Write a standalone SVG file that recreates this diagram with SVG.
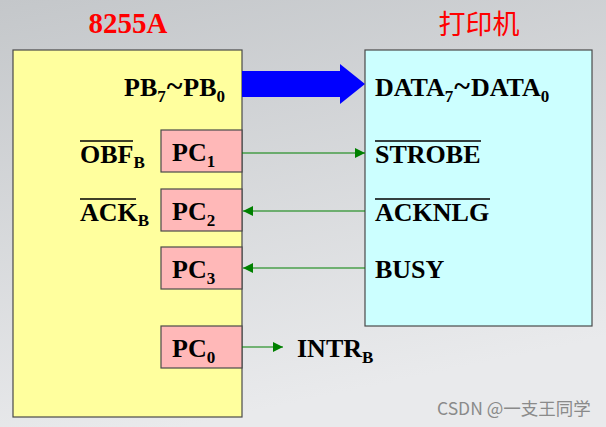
<svg xmlns="http://www.w3.org/2000/svg" width="606" height="427" viewBox="0 0 606 427">
<defs>
<linearGradient id="bg" x1="0" y1="0" x2="0.3" y2="1">
<stop offset="0" stop-color="#c4c7ca"/>
<stop offset="1" stop-color="#e9eaec"/>
</linearGradient>
<marker id="ah" viewBox="0 0 10 10" refX="10" refY="5" markerWidth="10" markerHeight="10" markerUnits="userSpaceOnUse" orient="auto">
<path d="M0,0 L10,5 L0,10 z" fill="#008000"/>
</marker>
<style>
.t{font-family:"Liberation Serif","Times New Roman",serif;font-weight:bold;font-size:26px;fill:#000}
.s{font-size:17px}
.tl{font-size:30px}
.title{font-family:"Liberation Serif",serif;font-weight:bold;font-size:29px;fill:#ff0000}
.pc{fill:#ffb8b8;stroke:#4a4a4a;stroke-width:1.2}
.ov{stroke:#000;stroke-width:1.6}
.g{stroke:#008000;stroke-width:1.2;fill:none;marker-end:url(#ah)}
</style>
</defs>
<rect width="606" height="427" fill="url(#bg)"/>
<text class="title" x="128" y="33" text-anchor="middle">8255A</text>
<text x="479" y="34" text-anchor="middle" style="font-family:'Noto Sans CJK SC',sans-serif;font-size:27px;fill:#ff0000">打印机</text>
<g id="chip8255">
<rect x="13" y="50" width="229" height="367" fill="#ffff9e" stroke="#4a4a4a" stroke-width="1.2"/>
<text class="t" x="124" y="96">PB<tspan class="s" dy="6">7</tspan><tspan class="tl" dy="-6" dx="1">~</tspan><tspan dx="1">PB</tspan><tspan class="s" dy="6">0</tspan></text>
<text class="t" x="80" y="163">OBF<tspan class="s" dy="5">B</tspan></text>
<line class="ov" x1="80" y1="141" x2="133" y2="141"/>
<text class="t" x="80" y="221">ACK<tspan class="s" dy="5">B</tspan></text>
<line class="ov" x1="80" y1="199" x2="136" y2="199"/>
</g>
<g id="pc1"><rect class="pc" x="161" y="130" width="81" height="42"/><text class="t" x="172" y="161">PC<tspan class="s" dy="6">1</tspan></text></g>
<g id="pc2"><rect class="pc" x="161" y="189" width="81" height="42"/><text class="t" x="172" y="220">PC<tspan class="s" dy="6">2</tspan></text></g>
<g id="pc3"><rect class="pc" x="161" y="247" width="81" height="42"/><text class="t" x="172" y="278">PC<tspan class="s" dy="6">3</tspan></text></g>
<g id="pc0"><rect class="pc" x="161" y="326" width="81" height="42"/><text class="t" x="172" y="357">PC<tspan class="s" dy="6">0</tspan></text></g>
<g id="printer">
<rect x="365" y="50" width="227" height="276" fill="#ccffff" stroke="#4a4a4a" stroke-width="1.2"/>
<text class="t" x="375" y="96">DATA<tspan class="s" dy="6">7</tspan><tspan class="tl" dy="-6" dx="1">~</tspan><tspan dx="1">DATA</tspan><tspan class="s" dy="6">0</tspan></text>
<text class="t" x="375" y="163">STROBE</text>
<line class="ov" x1="375" y1="141" x2="481" y2="141"/>
<text class="t" x="375" y="221">ACKNLG</text>
<line class="ov" x1="375" y1="199" x2="490" y2="199"/>
<text class="t" x="375" y="278">BUSY</text>
</g>
<g id="intr"><text class="t" x="297" y="357">INTR<tspan class="s" dy="6">B</tspan></text></g>
<g id="connectors">
<path d="M242,71 L340,71 L340,64 L365,84 L340,104 L340,97 L242,97 z" fill="#0000ff"/>
<line class="g" x1="242" y1="153" x2="365" y2="153"/>
<line class="g" x1="365" y1="211" x2="243" y2="211"/>
<line class="g" x1="365" y1="268" x2="243" y2="268"/>
<line class="g" x1="242" y1="347" x2="283" y2="347"/>
</g>
<text x="437" y="415" style="font-family:'Noto Sans CJK SC',sans-serif;font-size:17.5px;fill:#8a8a8a">CSDN @一支王同学</text>
</svg>
